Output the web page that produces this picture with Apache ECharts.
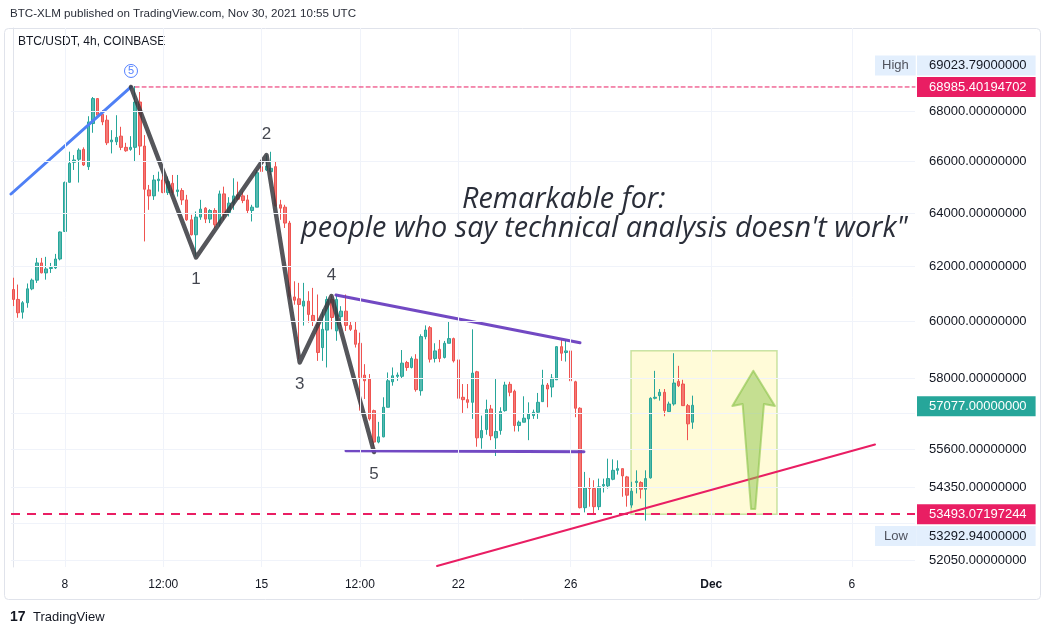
<!DOCTYPE html>
<html>
<head>
<meta charset="utf-8">
<script src="https://cdn.jsdelivr.net/npm/echarts@6/dist/echarts.min.js"></script>
<style>
html,body{margin:0;padding:0;background:#fff;}
#c{width:1052px;height:635px;}
</style>
</head>
<body>
<div id="c"></div>
<script>
// ---------- DATA ----------
// 4h candles of BTC/USDT starting 2021-11-06 04:00 UTC (one per slot)
const opens = [61150,60790,60330,60670,61175,61490,62125,61757,61920,61940, 62270,63300,65180,65960,66080,66470,65790,67500,68510,67875, 67635,66770,66770,66995,66550,66470,66550,68370,66600,64885, 64655,65245,65270,64783,65140,64820,64860,64500,63741,63175, 63843,64184,63767,64095,63617,64732,64018,64375,64694,64655, 64500,64094,64222,65790,65657,65593,65790,64312,64222,63617, 60880,60812,60548,60726,60214,59894,59070,59690,60787,59660, 60169,60368,59858,59692,59224,58112,57975,56896,55841,56015, 57010,57882,58070,58070,58550,58377,58665,57575,59459,59777, 58690,59011,58725,59224,59388,58641,57350,57268,57178,58227, 55982,56260,56953,55982,56226,56896,57793,57556,56394,56505, 56617,56728,56842,57201,57770,57700,57950,59105,58898,58955, 57882,56977,53702,54340,54318,53734,54404,54404,54618,54910, 54965,54696,53785,54512,54512,54296,54664,57316,57406,57520, 56864,57122,57895,57804,57065,56505];
const closes = [60790,60310,60670,61175,61490,62125,61760,61904,61955,62270, 63280,65170,65920,66050,66440,65855,67565,68510,67835,67565, 66730,66840,66945,66550,66415,66550,68370,66600,64910,64655, 65270,65300,64783,65205,64783,64885,64500,63741,63175,63843, 64146,63767,64095,63553,64732,63930,64375,64655,64528,64475, 64094,64222,65554,65600,65815,65725,64272,64184,63617,60903, 60760,60608,60726,60249,60011,58900,59717,60787,60140,60787, 60368,59858,59717,59189,58033,57916,56617,55841,56015,57010, 57916,58089,58112,58527,58377,58690,57611,59459,59692,58665, 58955,58690,59224,59388,58606,57316,57268,57178,58181,55982, 56226,56930,56049,56194,56864,57770,57520,56394,56505,56640, 56785,56842,57178,57770,57633,58010,59105,58874,58955,57916, 56977,53702,54340,54318,53734,54372,54447,54640,54910,54965, 54728,54103,54232,54554,54296,54640,57316,57350,57520,56896, 57122,57838,57747,57065,56450,57077];
const lows = [60550,60130,60100,60490,61125,61390,61740,61510,61757,61900, 62220,63290,65170,65660,65170,65815,65660,67130,67770,67435, 66640,66310,66640,66440,66375,66415,65985,66245,62925,64120, 64500,64820,64758,64690,64694,64630,64310,63700,63150,62360, 63741,63617,63617,63430,63490,63741,63866,64120,64502,64375, 63995,63677,64222,65530,65620,65464,64245,63741,63430,60787, 60600,58665,59850,59954,59835,58606,58606,58377,59717,59313, 59835,59660,59660,59074,56896,57292,56560,55700,55800,56000, 57010,57747,57916,57995,58260,58343,57542,57406,59364,58550, 58550,58560,58690,59224,58550,57010,56819,56977,56617,55686, 55620,56087,55904,55380,56087,56860,57384,56194,56194,56505, 55904,56617,56617,57201,57010,57350,57950,58606,58583,57860, 56673,53680,53552,53734,53467,53626,54190,54318,54586,54771, 54052,53734,53700,54160,53998,53292.94,54640,57280,57236,56706, 56864,57065,57700,57065,55904,56283];
const highs = [61580,61330,60730,61370,61550,62310,62310,62350,62125,62460, 63300,65210,66380,66245,66510,66550,67795,68575,68530,68040, 67835,67235,67835,67370,66730,66995,69023.79,68780,67036,65077, 65465,65595,65465,65400,65465,65465,64950,64694,63930,64056, 64502,64222,64146,64184,64858,65011,64604,65336,65205,64820, 64694,64312,65659,66100,66245,66375,65983,64502,64312,63700, 61450,61392,61392,61088,61209,60968,60428,60903,60930,60968, 60546,60968,60011,60011,59600,58492,58147,56930,56517,57350, 58204,58377,58204,58986,58606,58760,58840,59540,59858,59835, 59224,59341,59306,60011,59424,58725,57804,57804,59717,58260, 56728,57269,57090,57975,57010,57882,57882,57611,56560,57384, 57178,56930,57498,58297,57840,58147,59127,59341,59341,58986, 57916,57010,54858,54664,54586,54640,54640,55292,55270,55237, 54965,54728,54536,54910,54554,54910,57350,58260,57633,57633, 57201,58874,58434,57950,57122,57406];

// time-axis tick labels
const xTickCats   = ['2021-11-08 00:00','2021-11-11 12:00','2021-11-15 00:00','2021-11-18 12:00','2021-11-22 00:00','2021-11-26 00:00','2021-12-01 00:00','2021-12-06 00:00'];
const xTickLabels = ['8','12:00','15','12:00','22','26','Dec','6'];
// price-scale ticks (log scale); labels of two are hidden behind price boxes
const yTicks      = [68000,66000,64000,62000,60000,58000,56800,55600,54350,53200,52050];
const yTickHidden = [56800,53200];

// special price marks
const highPrice = 69023.79, lowPrice = 53292.94, lastPrice = 57077;
const resistPrice = 68985.40194702, supportPrice = 53493.07197244;

// drawings, in [bar index, price]
const waveImpulse   = [[-0.5,64727],[25.12,68985.4]];
const waveZigzag    = [[25.12,68985.4],[39.0,62326],[54.05,66247],[61.14,58550],[67.92,60914],[77.0,55512]];
const waveNames     = ['1','2','3','4','5'];
const channelTop    = [[68.88,60950],[120.98,59244]];
const channelBottom = [[71.02,55555],[121.83,55522]];
const trendLine     = [[90.45,51870],[183.96,55761]];
const targetBox     = [[131.87,58963],[163.04,53493.07]];
const arrowShape    = [[157.98,58265],[162.6,57053],[160.25,57121],[158.4,53661],[157.5,53661],[155.7,57121],[153.5,57053]];
const resistStartBar = 26;

// ---------- CHART ----------
const N = 193;
const p2 = n => (n < 10 ? '0' : '') + n;
const t0 = Date.UTC(2021, 10, 6, 4);
const categories = [];
for (let i = 0; i < N; i++) {
  const d = new Date(t0 + i * 4 * 3600 * 1000);
  categories.push(d.getUTCFullYear() + '-' + p2(d.getUTCMonth() + 1) + '-' + p2(d.getUTCDate()) + ' ' + p2(d.getUTCHours()) + ':00');
}
const candles = opens.map((o, i) => [o, closes[i], lows[i], highs[i]]);
const resistLine = [[resistStartBar, resistPrice], [N - 0.5, resistPrice]];

const FONT = '"Liberation Sans", Arial, sans-serif';
const TXT = '#131722';
const GRIDC = '#f0f3fa';

const chart = echarts.init(document.getElementById('c'), null, {renderer: 'canvas'});

const lineSeries = (data, color, width, z, opacity, type) => ({
  type: 'line', xAxisIndex: 1, yAxisIndex: 0, data: data, symbol: 'none', silent: true, z: z,
  lineStyle: {color: color, width: width, opacity: opacity == null ? 1 : opacity, type: type || 'solid', cap: 'round', join: 'round'},
  animation: false
});

const priceBox = (value, text, bg, fg, dy, dx, pad) => ({
  yAxis: value,
  lineStyle: {color: 'rgba(0,0,0,0)', width: 0},
  label: {show: true, position: 'end', distance: 2, formatter: text, backgroundColor: bg, color: fg, opacity: 1,
          fontFamily: FONT, fontSize: 13, lineHeight: 14, padding: pad || [3, 9, 3, 12], offset: [dx || 0, dy || 0]}
});

const waveLabelData = waveZigzag.slice(1).map((p, k) => ({
  value: p, name: waveNames[k],
  label: {offset: [0, (k % 2 === 0) ? 22 : -21]}
}));

const option = {
  animation: false,
  backgroundColor: '#ffffff',
  grid: {left: 11, top: 28, width: 904, height: 539},
  xAxis: [
    {type: 'category', data: categories, boundaryGap: true,
     axisLine: {show: false}, axisTick: {show: false}, splitLine: {show: false},
     axisLabel: {
       interval: (i, v) => xTickCats.indexOf(v) >= 0,
       formatter: v => { const s = xTickLabels[xTickCats.indexOf(v)]; return s === 'Dec' ? '{b|Dec}' : s; },
       rich: {b: {fontWeight: 'bold', fontSize: 12, color: TXT, fontFamily: FONT}},
       color: TXT, fontSize: 12, fontFamily: FONT, margin: 12
     }},
    {type: 'value', min: -0.5, max: N - 0.5, show: false}
  ],
  yAxis: [
    {type: 'log', logBase: 10, min: 51839, max: 71450, position: 'right',
     axisLine: {show: true, lineStyle: {color: '#e0e3eb'}}, axisTick: {show: false},
     axisLabel: {show: false}, splitLine: {show: false}}
  ],
  series: [
    // grid lines + price-scale tick labels
    {type: 'line', xAxisIndex: 0, yAxisIndex: 0, data: [], silent: true, z: 0,
     markLine: {silent: true, symbol: ['none', 'none'], animation: false,
       lineStyle: {color: GRIDC, width: 1, type: 'solid'},
       label: {show: false},
       emphasis: {disabled: true},
       data: yTicks.map(v => ({yAxis: v, label: {show: yTickHidden.indexOf(v) < 0, position: 'end', distance: 14,
                 formatter: v.toFixed(8), color: TXT, fontSize: 13, fontFamily: FONT}}))
             .concat(xTickCats.map(c => ({xAxis: c})))
     }},
    // candles
    {type: 'candlestick', xAxisIndex: 0, yAxisIndex: 0, data: candles, barWidth: 3, z: 2, silent: true,
     itemStyle: {color: 'rgba(38,166,154,0.78)', color0: 'rgba(239,83,80,0.78)',
                 borderColor: '#26a69a', borderColor0: '#ef5350', borderWidth: 1}},
    // target box (over candles, translucent)
    {type: 'line', xAxisIndex: 1, yAxisIndex: 0, data: [], z: 3, silent: true,
     markArea: {silent: true, itemStyle: {color: 'rgba(255,235,59,0.2)', borderColor: 'rgba(156,204,101,0.55)', borderWidth: 1.5},
       data: [[{coord: targetBox[0]}, {coord: targetBox[1]}]]}},
    // Elliott wave drawings
    lineSeries(waveImpulse, '#4f80f5', 3, 4),
    lineSeries(waveZigzag, 'rgba(55,56,62,0.85)', 4.5, 4),
    lineSeries(channelTop, '#6a3fc0', 3, 4, 0.95),
    lineSeries(channelBottom, '#6a3fc0', 3, 4, 0.95),
    lineSeries(trendLine, '#e91e63', 2, 5),
    lineSeries(resistLine, '#e91e63', 1, 5, 1, [4, 3]),
    // wave labels 1..5
    {type: 'scatter', xAxisIndex: 1, yAxisIndex: 0, symbolSize: 0, silent: true, z: 6,
     data: waveLabelData,
     label: {show: true, position: 'inside', formatter: '{b}', fontSize: 17, color: TXT, fontFamily: FONT}},
    // circled 5 above the top
    {type: 'scatter', xAxisIndex: 1, yAxisIndex: 0, symbolSize: 0, silent: true, z: 6,
     data: [{value: waveImpulse[1], name: '5'}],
     label: {show: true, position: 'inside', formatter: '{b}', offset: [0, -16], fontSize: 11, color: '#2962ff',
             fontFamily: FONT, width: 13, height: 13, lineHeight: 13, align: 'center',
             borderColor: '#2962ff', borderWidth: 1, borderRadius: 8, padding: 0}},
    // green up arrow
    {type: 'custom', xAxisIndex: 1, yAxisIndex: 0, silent: true, z: 7,
     data: arrowShape, encode: {x: 0, y: 1},
     renderItem: (params, api) => {
       if (params.dataIndex !== 0) return null;
       const pts = arrowShape.map(p => api.coord(p));
       return {type: 'polygon', shape: {points: pts},
               style: {fill: 'rgba(139,195,74,0.5)', stroke: 'rgba(139,195,74,0.6)', lineWidth: 2, lineJoin: 'round'}};
     }},
    // support line and price-scale boxes
    {type: 'line', xAxisIndex: 0, yAxisIndex: 0, data: [], silent: true, z: 8,
     markLine: {silent: true, symbol: ['none', 'none'], animation: false, emphasis: {disabled: true},
       data: [
         {yAxis: supportPrice, lineStyle: {color: '#e91e63', width: 2, type: [9, 7]}, label: {show: false}},
         priceBox(highPrice, highPrice.toFixed(8), '#e3effd', TXT, -20.5),
         priceBox(highPrice, 'High', '#e3effd', '#50535e', -20.5, -42, [3, 7, 3, 7]),
         priceBox(resistPrice, resistPrice.toFixed(8), '#e91e63', '#ffffff', 0),
         priceBox(lastPrice, lastPrice.toFixed(8), '#26a69a', '#ffffff', 1),
         priceBox(supportPrice, supportPrice.toFixed(8), '#e91e63', '#ffffff', 0),
         priceBox(lowPrice, lowPrice.toFixed(8), '#e3effd', TXT, 15.5),
         priceBox(lowPrice, 'Low', '#e3effd', '#50535e', 15.5, -42, [3, 9, 3, 9])
       ]}}
  ],
  graphic: [
    {type: 'rect', silent: true, z: -1, shape: {x: 4.5, y: 28.5, width: 1036, height: 571, r: 4},
     style: {fill: 'none', stroke: '#e0e3eb', lineWidth: 1}},
    {type: 'text', silent: true, style: {x: 10, y: 14, text: 'BTC-XLM published on TradingView.com, Nov 30, 2021 10:55 UTC',
       font: '11.6px ' + FONT, fill: '#2a2e39', verticalAlign: 'middle'}},
    {type: 'text', silent: true, style: {x: 18, y: 42, text: 'BTC/USDT, 4h, COINBASE',
       font: '12px ' + FONT, fill: TXT, verticalAlign: 'middle'}},
    {type: 'text', silent: true, z: 20, style: {x: 462, y: 200, text: 'Remarkable for:',
       font: 'italic 28.8px "Open Sans", sans-serif', fill: '#2a2e39', verticalAlign: 'middle'}},
    {type: 'text', silent: true, z: 20, style: {x: 301, y: 229, text: 'people who say technical analysis doesn\'t work"',
       font: 'italic 28.8px "Open Sans", sans-serif', fill: '#2a2e39', verticalAlign: 'middle'}},
    {type: 'text', silent: true, style: {x: 10, y: 617, text: '17', font: '900 14px ' + FONT, fill: TXT, verticalAlign: 'middle'}},
    {type: 'text', silent: true, style: {x: 33, y: 617, text: 'TradingView', font: '13px ' + FONT, fill: TXT, verticalAlign: 'middle'}}
  ]
};
chart.setOption(option);
</script>
</body>
</html>
